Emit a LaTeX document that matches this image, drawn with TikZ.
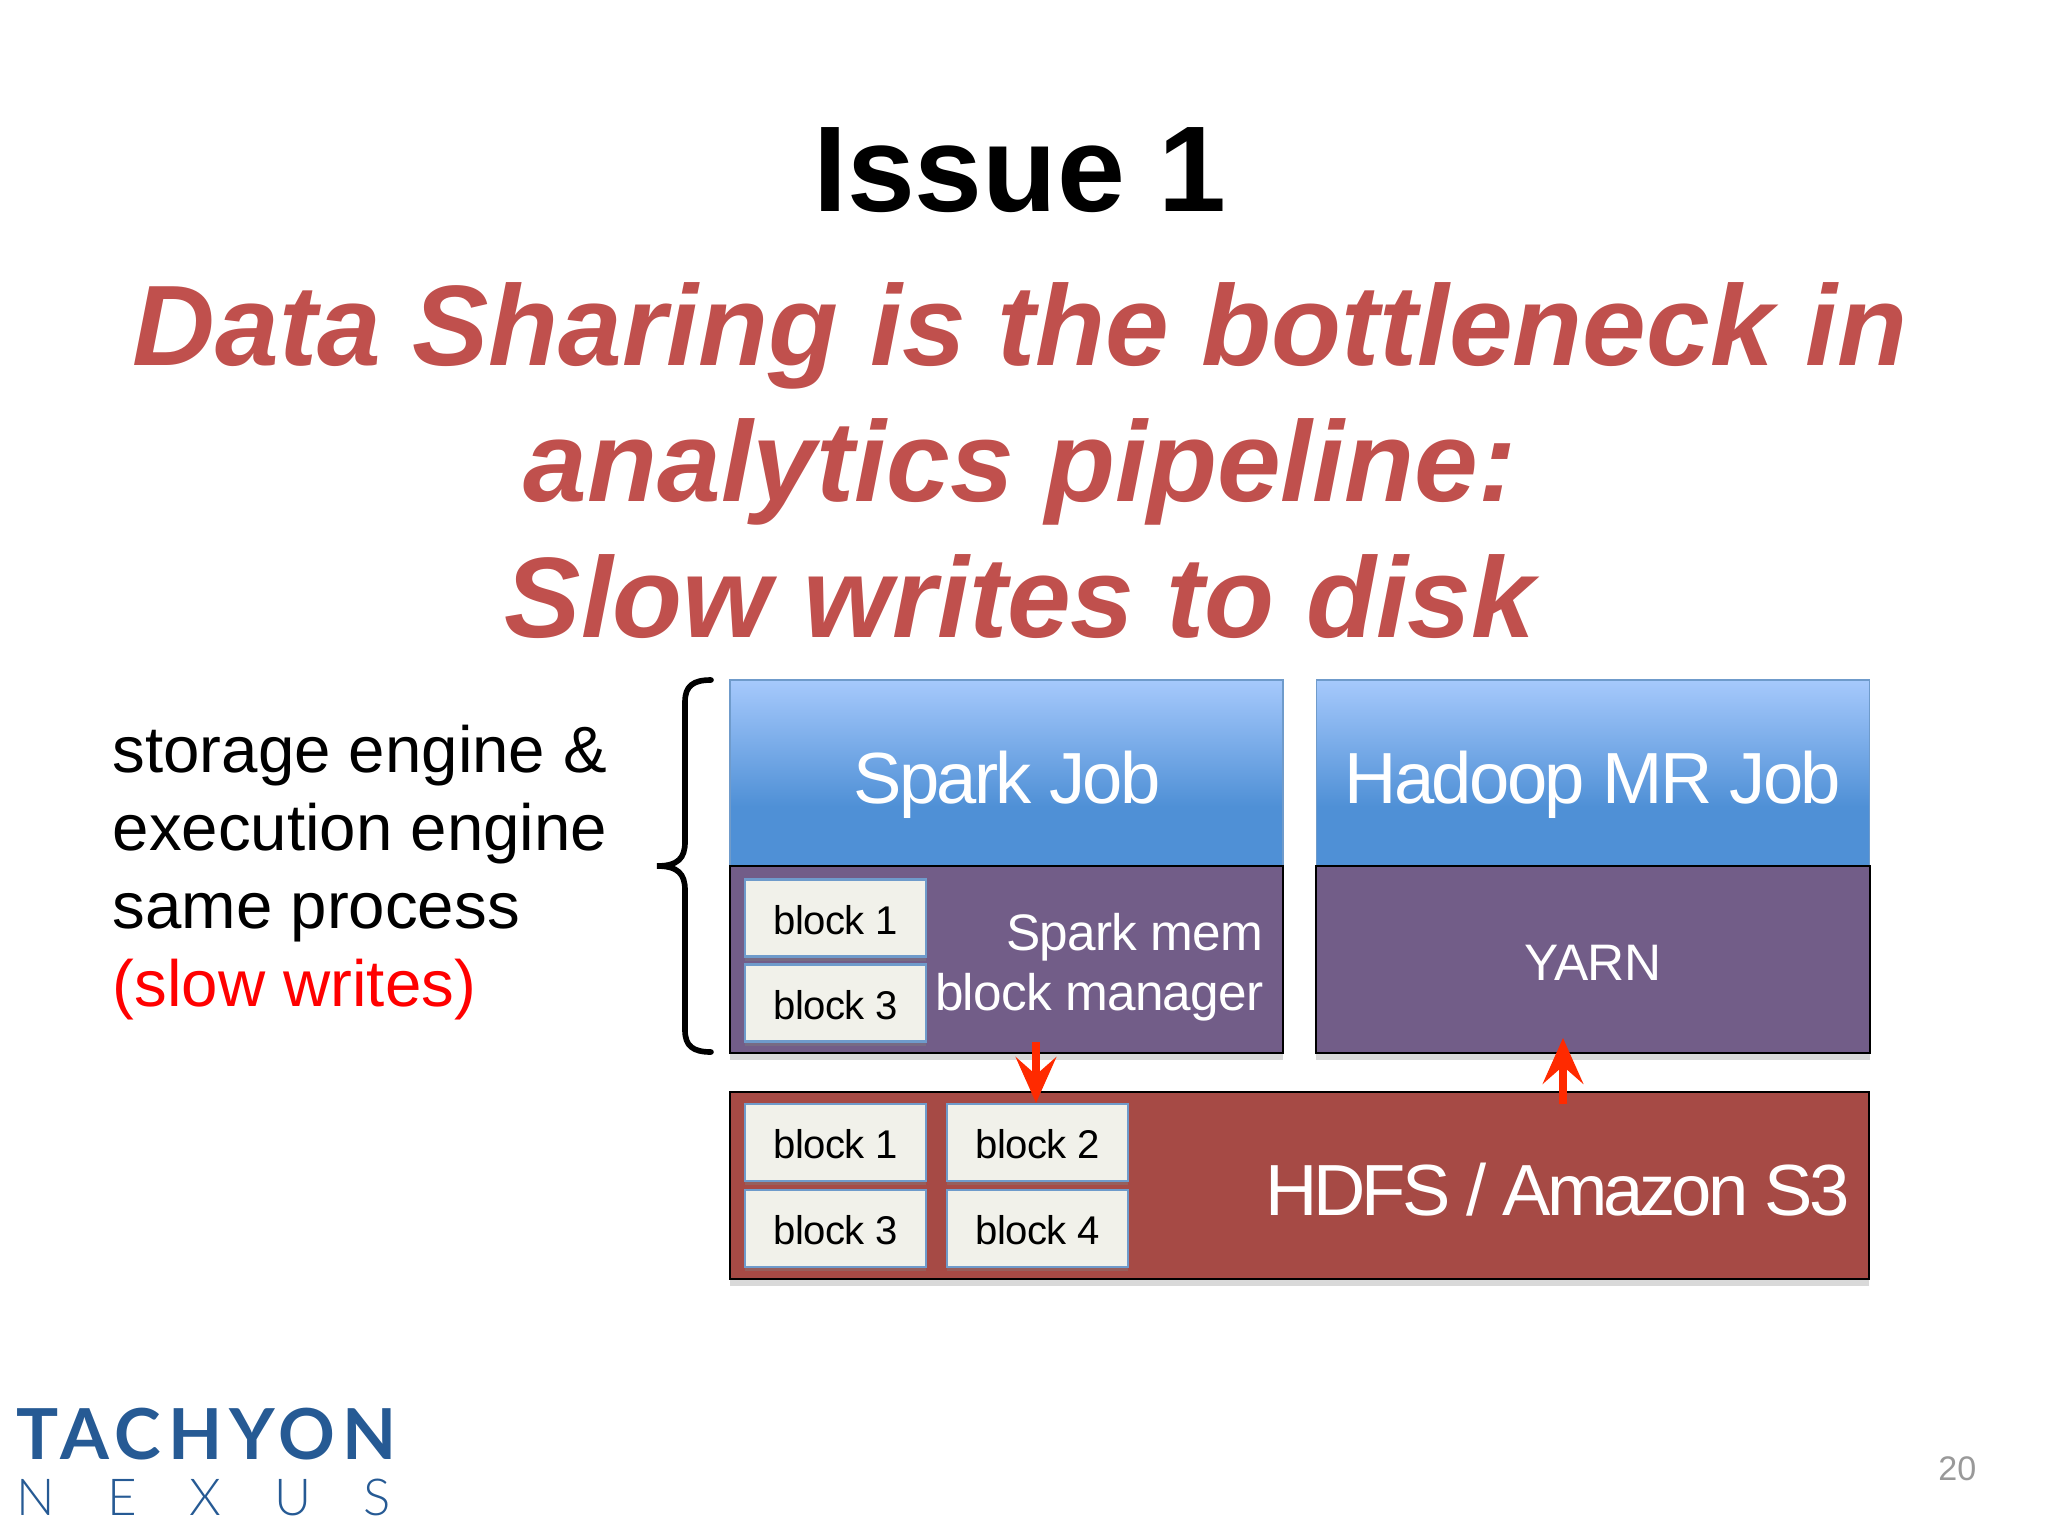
\documentclass[tikz,border=0pt]{standalone}
\usepackage{fontspec}
\setmainfont{Liberation Sans}
\newfontfamily\tightfont[LetterSpace=-1.5]{Liberation Sans}
\newfontfamily\bigfont[LetterSpace=-3.7]{Liberation Sans}
\newfontfamily\hdfsfont[LetterSpace=-5.5]{Liberation Sans}
\newfontfamily\logofont[LetterSpace=9.6]{Lato}
\newfontfamily\logolight[LetterSpace=103]{Lato Light}
\usetikzlibrary{arrows.meta,shadows}
\definecolor{issuered}{HTML}{C0504D}
\definecolor{jobpurple}{HTML}{725D88}
\definecolor{hdfsred}{HTML}{A64A45}
\definecolor{blockfill}{HTML}{F1F1EA}
\definecolor{blockedge}{HTML}{6F9BCB}
\definecolor{arrowred}{HTML}{FF2A00}
\definecolor{logoblue}{HTML}{265A94}
\definecolor{jobblue}{HTML}{4F90D6}
\definecolor{jobtop}{HTML}{A6C9FC}
\pgfdeclareverticalshading{jobshade}{100bp}{color(0bp)=(jobblue); color(41bp)=(jobblue); color(75bp)=(jobtop); color(100bp)=(jobtop)}
\begin{document}
\begin{tikzpicture}[
        x=0.01cm, y=-0.01cm,
        plainline/.style={font=\fontsize{18.6}{22}\selectfont, anchor=base west, inner sep=0},
        jobbox/.style={draw=blockedge, line width=0.4pt, shading=jobshade, minimum width=5.53cm, minimum height=1.86cm, inner sep=0},
        membox/.style={draw=black, line width=0.5pt, fill=jobpurple, minimum width=5.53cm, minimum height=1.87cm, inner sep=0, drop shadow={shadow xshift=0pt, shadow yshift=-2pt, opacity=0.3}},
        blockbox/.style={draw=blockedge, line width=0.6pt, fill=blockfill, minimum width=1.81cm, minimum height=0.77cm, inner sep=0, text height=9.2pt, text depth=0pt, font=\tightfont\fontsize{11.4}{13}\selectfont, drop shadow={shadow xshift=0pt, shadow yshift=-1.2pt, opacity=0.4}},
        bigtext/.style={text=white, inner sep=0, font=\bigfont\fontsize{20.6}{24}\selectfont},
        smalltext/.style={text=white, inner sep=0, font=\tightfont\fontsize{14.6}{17}\selectfont},
        slowarrow/.style={draw=arrowred, line width=2.4pt, -{Stealth[length=13pt, width=11.5pt, inset=5pt]}},
    ]
    \useasboundingbox (0,0) rectangle (2048,1536);
    \node[font=\bfseries\fontsize{34.7}{40}\selectfont, anchor=base, inner sep=0](title) at (1020,211){Issue 1};
    \node[text=issuered, align=center, inner sep=0, font=\bfseries\itshape\fontsize{32.55}{38.7}\selectfont](issue) at (1020,461){Data Sharing is the bottleneck in\\analytics pipeline:\\Slow writes to disk};

    % left text and brace
    \node[plainline](line1) at (112,772){storage engine \&};
    \node[plainline](line2) at (112,850){execution engine};
    \node[plainline](line3) at (112,928){same process};
    \node[plainline, text=red](line4) at (112,1006){(slow writes)};
    \coordinate (braceup) at (711,680);
    \coordinate (bracetip) at (657,866);
    \coordinate (bracelow) at (711,1052);
    \draw[line width=1.6pt, line cap=round] (braceup) .. controls (693,680) and (685,686) .. (685,702) -- (685,842) .. controls (685,858) and (678,866) .. (bracetip) .. controls (678,866) and (685,874) .. (685,890) -- (685,1030) .. controls (685,1046) and (693,1052) .. (bracelow);

    % jobs
    \node[jobbox](sparkjob) at (1006.5,773){};
    \node[jobbox](hadoopjob) at (1593,773){};
    \node[bigtext](sparktext) at (1007,785){Spark Job};
    \node[bigtext](hadooptext) at (1593,785){Hadoop MR Job};
    \node[membox](sparkmem) at (1006.5,959.5){};
    \node[membox](yarn) at (1593,959.5){};
    \node[smalltext](yarntext) at (1593,963){YARN};
    \node[smalltext, align=right, anchor=east](sparktext2) at (1264,967){Spark mem\\block manager};
    \node[blockbox](memblock1) at (835.5,918){block 1};
    \node[blockbox](memblock3) at (835.5,1003){block 3};

    % storage
    \node[membox, fill=hdfsred, minimum width=11.39cm](hdfs) at (1299.5,1185.5){};
    \node[bigtext, anchor=east, font=\hdfsfont\fontsize{20.6}{24}\selectfont](hdfstext) at (1850,1190){HDFS / Amazon S3};
    \node[blockbox](diskblock1) at (835.5,1142.5){block 1};
    \node[blockbox](diskblock2) at (1037.5,1142.5){block 2};
    \node[blockbox](diskblock3) at (835.5,1228.5){block 3};
    \node[blockbox](diskblock4) at (1037.5,1228.5){block 4};

    \coordinate (writefrom) at (1036,1042);
    \coordinate (readto) at (1563,1038);
    \coordinate (readfrom) at (1563,1104);
    \draw[slowarrow] (writefrom) -- (diskblock2.north -| writefrom);
    \draw[slowarrow] (readfrom) -- (readto);

    % logo and page number
    \node[text=logoblue, anchor=base west, inner sep=0, font=\logofont\bfseries\fontsize{20}{24}\selectfont](tachyon) at (16,1459){TACHYON};
    \node[text=logoblue, anchor=base west, inner sep=0, font=\logolight\fontsize{14.5}{17}\selectfont](nexus) at (16,1515){NEXUS};
    \node[text=black!40, anchor=base east, inner sep=0, font=\fontsize{9.7}{12}\selectfont](pagenum) at (1977,1480){20};
\end{tikzpicture}
\end{document}
